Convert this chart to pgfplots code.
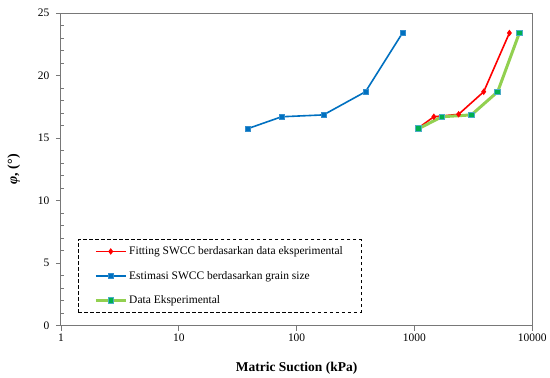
\documentclass[border=0pt]{standalone}
\usepackage{fontspec}
\setmainfont{Liberation Serif}
\usepackage{pgfplots}
\pgfplotsset{compat=1.18}
\definecolor{cred}{RGB}{255,0,0}
\definecolor{cblue}{RGB}{0,112,192}
\definecolor{cgreenline}{RGB}{146,208,80}
\definecolor{cgreenfill}{RGB}{0,176,80}
\definecolor{cteal}{RGB}{75,172,198}
\definecolor{caxis}{RGB}{120,120,120}
\begin{document}
\begin{tikzpicture}
\begin{axis}[
  scale only axis, width=472pt, height=313pt,
  xmode=log, log basis x=10,
  xmin=1, xmax=10000, ymin=0, ymax=25,
  xtick={1,10,100,1000,10000}, xticklabels={1,10,100,1000,10000},
  ytick={0,5,10,15,20,25}, yticklabels={0,5,10,15,20,25},
  minor y tick num=4,
  xtick pos=left, ytick pos=left,
  /pgf/number format/assume math mode=true,
  tick align=outside, major tick length=5pt, minor tick length=3pt,
  minor x tick style={yshift=3pt},
  minor y tick style={xshift=3pt},
  axis line style={caxis, line width=0.9pt},
  every tick/.style={caxis, line width=0.7pt},
  ticklabel style={font=\fontsize{11.5}{13}\selectfont},
  yticklabel style={xshift=-3pt},
  xlabel={\textbf{Matric Suction (kPa)}},
  ylabel={\textbf{\textit{φ}, (°)}},
  xlabel style={font=\fontsize{13.5}{15}\selectfont, at={(axis description cs:0.5,-0.135)}, anchor=center},
  ylabel style={font=\fontsize{14}{16}\selectfont, at={(axis description cs:-0.1,0.5)}, anchor=center},
  legend cell align=left,
  legend image code/.code={\draw[mark repeat=2,mark phase=2] plot coordinates {(0pt,0pt)(15pt,0pt)(30pt,0pt)};},
  legend style={at={(0.036,0.276)}, anchor=north west, draw=black, dash pattern=on 3.5pt off 2.5pt, line width=0.8pt,
    fill=white, font=\fontsize{11.5}{13}\selectfont, inner xsep=16pt, inner ysep=5pt, row sep=11pt},
]
\addplot[solid, cred, line width=1.6pt, mark=diamond*, mark size=2pt, mark options={solid, fill=cred, draw=cred}]
  coordinates {(1060,15.75)(1460,16.7)(2370,16.9)(3870,18.7)(6390,23.4)};
\addlegendentry{Fitting SWCC berdasarkan data eksperimental}
\addplot[solid, cblue, line width=1.6pt, mark=square*, mark size=2.6pt, mark options={solid, fill=cblue, draw=cblue!80!white, line width=0.5pt}]
  coordinates {(38.5,15.75)(74.6,16.7)(169,16.85)(384,18.7)(791,23.4)};
\addlegendentry{Estimasi SWCC berdasarkan grain size}
\addplot[solid, cgreenline, line width=3pt, mark=square*, mark size=2.8pt, mark options={solid, fill=cgreenfill, draw=cteal, line width=0.8pt}]
  coordinates {(1085,15.75)(1704,16.7)(3041,16.85)(5081,18.7)(7762,23.4)};
\addlegendentry{Data Eksperimental}
\end{axis}
\path ([shift={(-61pt,-50pt)}]current axis.south west) rectangle ([shift={(17pt,13pt)}]current axis.north east);
\end{tikzpicture}
\end{document}
